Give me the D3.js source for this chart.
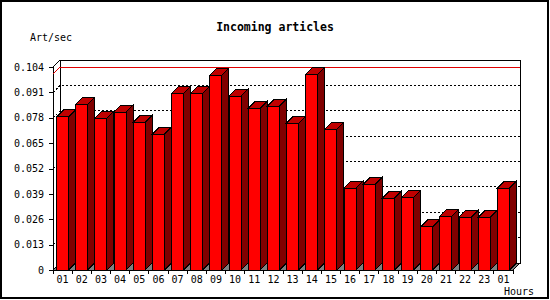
<!DOCTYPE html>
<html>
<head>
<meta charset="utf-8">
<script src="https://cdn.jsdelivr.net/npm/d3@7"></script>
<style>
  body { margin: 0; background: #fff; }
  svg { display: block; }
  .lbl { font-family: "DejaVu Sans Mono", monospace; font-size: 10px; fill: #000; }
</style>
</head>
<body>
<svg id="chart" width="550" height="300"></svg>
<script>
// hours on the x axis (last one wraps to the next day)
const hours = ['01', '02', '03', '04', '05', '06', '07', '08', '09', '10', '11', '12',
  '13', '14', '15', '16', '17', '18', '19', '20', '21', '22', '23', '01']

// incoming articles per second
const artPerSec = [0.0784, 0.0849, 0.0777, 0.0808, 0.0757, 0.0695, 0.0905, 0.0905,
  0.0999, 0.0890, 0.0828, 0.0840, 0.0752, 0.1003, 0.0721, 0.0419, 0.0439, 0.0367,
  0.0372, 0.0222, 0.0275, 0.0270, 0.0270, 0.0419]

const yTicks = [0, 0.013, 0.026, 0.039, 0.052, 0.065, 0.078, 0.091, 0.104]

const plot = { left: 53, right: 513, top: 67, bottom: 270 }
const depth = 7
const barOffset = 3.5, barWidth = 12

const svg = d3.select('#chart')

// outer frame
svg.append('rect')
  .attr('x', 1).attr('y', 1)
  .attr('width', 547).attr('height', 297)
  .attr('fill', '#fff')
  .attr('stroke', '#000')
  .attr('stroke-width', 2)

const xScale = d3.scaleBand()
  .domain(d3.range(hours.length))
  .range([plot.left, plot.right])

const yScale = d3.scaleLinear()
  .domain([0, yTicks[yTicks.length - 1]])
  .range([plot.bottom, plot.top])

const g = svg.append('g').attr('shape-rendering', 'crispEdges')

// floor
g.append('polygon')
  .attr('points', [[plot.left, plot.bottom], [plot.left + depth, plot.bottom - depth],
    [plot.right + depth, plot.bottom - depth], [plot.right, plot.bottom]].join(' '))
  .attr('fill', '#808080')
  .attr('stroke', '#000')

// back wall
g.append('rect')
  .attr('x', plot.left + depth).attr('y', plot.top - depth)
  .attr('width', plot.right - plot.left).attr('height', plot.bottom - plot.top)
  .attr('fill', '#fff')
  .attr('stroke', '#000')

// left wall edges
g.append('polyline')
  .attr('points', [[plot.left, plot.bottom], [plot.left, plot.top], [plot.left + depth, plot.top - depth]].join(' '))
  .attr('fill', 'none')
  .attr('stroke', '#000')

// grid lines on back and left walls
const wallLine = v => [[plot.left, yScale(v)], [plot.left + depth, yScale(v) - depth],
  [plot.right + depth, yScale(v) - depth]].join(' ')

g.selectAll('.grid')
  .data(yTicks.slice(1, -1))
  .enter()
  .append('polyline')
  .attr('class', 'grid')
  .attr('points', d => wallLine(d))
  .attr('fill', 'none')
  .attr('stroke', '#000')
  .attr('stroke-dasharray', '2,2')

// max value line
const maxVal = d3.max(artPerSec)
g.append('polyline')
  .attr('points', wallLine(maxVal))
  .attr('fill', 'none')
  .attr('stroke', '#e00000')

// bars
const bars = g.selectAll('.bar')
  .data(artPerSec)
  .enter()
  .append('g')
  .attr('class', 'bar')

bars.append('polygon')
  .attr('points', (d, i) => {
    const x1 = xScale(i) + barOffset + barWidth
    const y = yScale(d)
    return [[x1, plot.bottom], [x1 + depth, plot.bottom - depth], [x1 + depth, y - depth], [x1, y]].join(' ')
  })
  .attr('fill', '#800000')
  .attr('stroke', '#000')

bars.append('polygon')
  .attr('points', (d, i) => {
    const x0 = xScale(i) + barOffset
    const y = yScale(d)
    return [[x0, y], [x0 + depth, y - depth], [x0 + barWidth + depth, y - depth], [x0 + barWidth, y]].join(' ')
  })
  .attr('fill', '#c00000')
  .attr('stroke', '#000')

bars.append('rect')
  .attr('x', (d, i) => xScale(i) + barOffset)
  .attr('y', d => yScale(d))
  .attr('width', barWidth)
  .attr('height', d => plot.bottom - yScale(d))
  .attr('fill', '#ff0000')
  .attr('stroke', '#000')

// y axis
const leftAxis = d3.axisLeft(yScale)
  .tickValues(yTicks)
  .tickFormat(d => d === 0 ? '0' : d3.format('.3f')(d))
  .tickSize(4)
  .tickPadding(5)
  .tickSizeOuter(0)

const yAxis = svg.append('g')
  .attr('transform', `translate(${plot.left}, 0)`)
  .call(leftAxis)
yAxis.attr('font-family', null).attr('font-size', null)
yAxis.select('.domain').remove()
yAxis.selectAll('line').attr('shape-rendering', 'crispEdges')
yAxis.selectAll('text').attr('class', 'lbl')

// x axis
const bottomAxis = d3.axisBottom(xScale)
  .tickFormat(i => hours[i])
  .tickSize(0)
  .tickPadding(6)

const xAxis = svg.append('g')
  .attr('transform', `translate(0, ${plot.bottom})`)
  .call(bottomAxis)
xAxis.attr('font-family', null).attr('font-size', null)
xAxis.select('.domain').remove()
xAxis.selectAll('text').attr('class', 'lbl')

// tick marks between the hours
svg.append('g')
  .attr('shape-rendering', 'crispEdges')
  .selectAll('line')
  .data(d3.range(hours.length + 1))
  .enter()
  .append('line')
  .attr('x1', i => i < hours.length ? xScale(i) : plot.right)
  .attr('x2', i => i < hours.length ? xScale(i) : plot.right)
  .attr('y1', plot.bottom)
  .attr('y2', plot.bottom + 4)
  .attr('stroke', '#000')

// texts
svg.append('text')
  .attr('x', 275).attr('y', 31)
  .attr('text-anchor', 'middle')
  .attr('font-family', '"DejaVu Sans Mono", monospace')
  .attr('font-weight', 'bold')
  .attr('font-size', '11.5px')
  .text('Incoming articles')

svg.append('text')
  .attr('class', 'lbl')
  .attr('x', 30).attr('y', 41)
  .text('Art/sec')

svg.append('text')
  .attr('class', 'lbl')
  .attr('x', 504).attr('y', 295)
  .text('Hours')
</script>
</body>
</html>
